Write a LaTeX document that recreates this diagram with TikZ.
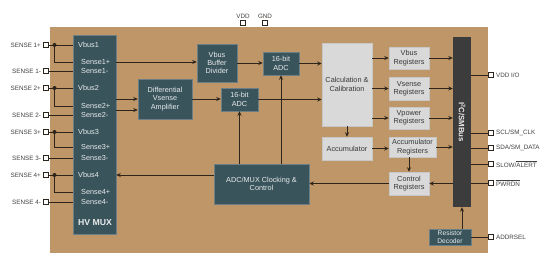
\documentclass[tikz,border=0pt]{standalone}
\usepackage{fontspec}
\setmainfont{Liberation Sans}
\usepackage{xcolor}
\usepackage{tikz}
\usetikzlibrary{arrows.meta, positioning, calc}

\definecolor{boardtan}{RGB}{190,150,104}
\definecolor{blockteal}{RGB}{58,84,92}
\definecolor{regsgray}{RGB}{217,217,217}
\definecolor{busgray}{RGB}{60,60,60}
\definecolor{wirecol}{RGB}{45,36,28}

\newcommand{\ovl}[1]{$\overline{\mbox{#1}}$}

\tikzset{
  tealblk/.style={fill=blockteal, draw=blockteal!75!white, line width=0.5pt, text=white!88!blockteal,
    font=\fontsize{7.3}{8.3}\selectfont, align=center, inner sep=0pt},
  grayblk/.style={fill=regsgray, draw=black!22, line width=0.5pt, text=black!78,
    font=\fontsize{7.3}{8.3}\selectfont, align=center, inner sep=0pt},
  pinbox/.style={draw=wirecol, fill=white, line width=0.8pt, minimum size=5pt, inner sep=0pt},
  pinlbl/.style={text=black!75, font=\fontsize{6.3}{7}\selectfont, inner sep=1pt},
  muxlbl/.style={text=white!88!blockteal, font=\fontsize{7.3}{8}\selectfont, anchor=west, inner sep=0pt},
  wire/.style={draw=wirecol, line width=0.9pt},
  arr/.style={wire, -{Stealth[length=4.5pt,width=4pt]}},
}

\begin{document}
\begin{tikzpicture}[x=1pt, y=-1pt]
  \useasboundingbox (0,0) rectangle (557,270);

  % Board
  \fill[boardtan] (50,27) rectangle (488,253);

  % HV MUX
  \node[tealblk, minimum width=43pt, minimum height=199pt] (mux) at (94.5,134.5) {};
  \node[muxlbl, anchor=center, font=\fontsize{8.7}{9}\selectfont\bfseries] (muxname) at (95,223) {HV MUX};

  % Sense pins: n / Vbus y / Sense+ y / Sense- y
  \foreach \n/\yv/\ys/\ym in {1/45/62/71, 2/88/106/115, 3/132/147/158, 4/175/192/202} {
    \node[pinbox] (pp\n) at (46,\yv) {};
    \node[pinlbl, left=1pt of pp\n] (lp\n) {SENSE \n+};
    \node[pinbox] (pm\n) at (46,\ym) {};
    \node[pinlbl, left=1pt of pm\n] (lm\n) {SENSE \n-};
    \node[muxlbl] (vb\n) at (78,\yv) {Vbus\n};
    \node[muxlbl] (sp\n) at (81,\ys) {Sense\n+};
    \node[muxlbl] (sm\n) at (81,\ym) {Sense\n-};
    \coordinate (dot\n) at (54.5,\yv);
    \draw[wire] (pp\n) -- (mux.west |- pp\n);
    \draw[wire] (dot\n) |- (mux.west |- sp\n);
    \draw[wire] (pm\n) -- (mux.west |- pm\n);
    \fill[wirecol] (dot\n) circle (2pt);
  }

  % Front-end blocks
  \node[tealblk, minimum width=54pt, minimum height=40pt] (amp) at (165,99) {Differential\\Vsense\\Amplifier};
  \node[tealblk, minimum width=40pt, minimum height=38pt] (bufdiv) at (217,63) {Vbus\\Buffer\\Divider};
  \node[tealblk, minimum width=36pt, minimum height=23pt] (adcA) at (281,63.5) {16-bit\\ADC};
  \node[tealblk, minimum width=37pt, minimum height=23pt] (adcB) at (239.5,99.5) {16-bit\\ADC};
  \node[tealblk, minimum width=95pt, minimum height=40pt] (clk) at (261.5,184) {ADC/MUX Clocking \&\\Control};

  % Digital side
  \node[grayblk, minimum width=50pt, minimum height=83pt] (calc) at (347,84.5) {Calculation \&\\Calibration};
  \node[grayblk, minimum width=50pt, minimum height=23pt] (acc) at (347,148.5) {Accumulator};
  \node[grayblk, minimum width=40pt, minimum height=22pt] (vbusreg) at (409,58) {Vbus\\Registers};
  \node[grayblk, minimum width=40pt, minimum height=23pt] (vsensereg) at (409,88.5) {Vsense\\Registers};
  \node[grayblk, minimum width=40pt, minimum height=22pt] (vpowreg) at (409,118) {Vpower\\Registers};
  \node[grayblk, minimum width=47pt, minimum height=20pt] (accreg) at (412.5,147) {Accumulator\\Registers};
  \node[grayblk, minimum width=40pt, minimum height=23pt] (ctrlreg) at (409,183.5) {Control\\Registers};
  \node[fill=busgray, minimum width=18pt, minimum height=170pt, inner sep=0pt] (bus) at (462,122) {};
  \node[rotate=-90, text=white!90!busgray, font=\fontsize{7.8}{8}\selectfont\bfseries, inner sep=0pt]
    (busname) at (bus.center) {I\textsuperscript{2}C/SMBus};
  \node[tealblk, minimum width=42pt, minimum height=16pt, font=\fontsize{6.7}{7.4}\selectfont] (dec) at (450,237) {Resistor\\Decoder};

  % Analog path
  \coordinate (ampin) at ($(amp.west)+(0,11)$);
  \draw[arr] (mux.east |- sp1) -- (bufdiv.west |- sp1);
  \draw[arr] (mux.east |- amp) -- (amp.west);
  \draw[arr] (mux.east |- ampin) -- (ampin);
  \draw[arr] (amp.east) -- (adcB.west |- amp.east);
  \draw[arr] (bufdiv.east) -- (adcA.west |- bufdiv.east);
  \draw[arr] (adcA.east) -- (calc.west |- adcA.east);
  \draw[arr] (adcB.east) -- (calc.west |- adcB.east);

  % Clocking & control
  \draw[arr] (clk.north -| adcB) -- (adcB.south);
  \draw[arr] (clk.north -| adcA) -- (adcA.south);
  \draw[arr] (clk.west |- vb4) -- (mux.east |- vb4);
  \draw[arr] (ctrlreg.west) -- (clk.east |- ctrlreg.west);

  % Registers to bus
  \draw[arr] (calc.south) -- (acc.north);
  \foreach \r in {vbusreg, vsensereg, vpowreg} {
    \draw[arr] (calc.east |- \r) -- (\r.west);
    \draw[arr] (\r.east) -- (bus.west |- \r);
  }
  \draw[arr] (acc.east) -- (accreg.west |- acc.east);
  \draw[arr] (accreg.east) -- (bus.west |- accreg);
  \draw[arr] (accreg.south -| ctrlreg) -- (ctrlreg.north);
  \draw[arr, {Stealth[length=4.5pt,width=4pt]}-] (ctrlreg.east) -- (bus.west |- ctrlreg);
  \draw[arr] (dec.north -| bus) -- (bus.south);

  % Right pins
  \foreach \nm/\yy/\txt in {vddio/75/{VDD I/O}, scl/133/{SCL/SM\_CLK}, sda/148/{SDA/SM\_DATA},
      slow/164/{SLOW/\ovl{ALERT}}, pwrdn/183/{\ovl{PWRDN}}} {
    \node[pinbox] (\nm) at (491,\yy) {};
    \node[pinlbl, right=1pt of \nm] (\nm-lbl) {\txt};
    \draw[wire] (bus.east |- \nm) -- (\nm);
  }
  \node[pinbox] (addrsel) at (491,237) {};
  \node[pinlbl, right=1pt of addrsel] (addrsel-lbl) {ADDRSEL};
  \draw[wire] (dec.east |- addrsel) -- (addrsel);

  % Supply pins
  \node[pinbox] (vdd) at (243,23) {};
  \node[pinlbl, above=0.5pt of vdd] (vdd-lbl) {VDD};
  \node[pinbox] (gnd) at (265,23) {};
  \node[pinlbl, above=0.5pt of gnd] (gnd-lbl) {GND};
\end{tikzpicture}
\end{document}
